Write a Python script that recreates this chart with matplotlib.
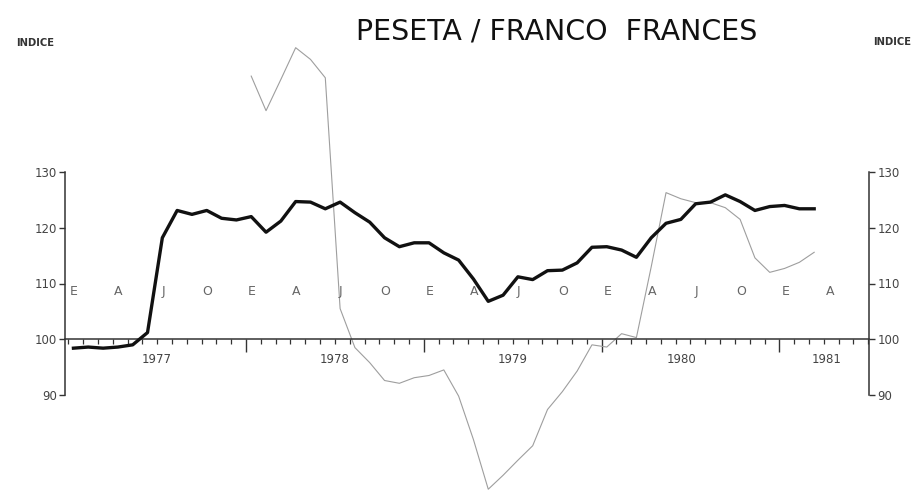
import matplotlib.pyplot as plt
import numpy as np

# meses desde enero 1977 (mes 0)
peseta_franco = [98.4, 98.6, 98.4, 98.6, 99.0, 101.2, 118.2, 123.1, 122.4, 123.1, 121.7, 121.4,
                 122.0, 119.2, 121.2, 124.7, 124.6, 123.4, 124.6, 122.7, 121.0, 118.2, 116.6, 117.3,
                 117.3, 115.5, 114.2, 110.8, 106.8, 107.9, 111.2, 110.7, 112.3, 112.4, 113.7, 116.5,
                 116.6, 116.0, 114.7, 118.2, 120.8, 121.5, 124.3, 124.6, 125.9, 124.7, 123.1, 123.8,
                 124.0, 123.4, 123.4]

# serie fina, empieza en enero 1978 (mes 12)
thin_start = 12
thin_series = [147.2, 141.0, 146.6, 152.3, 150.2, 146.9, 105.5, 98.5, 95.8, 92.6, 92.1, 93.1,
               93.5, 94.5, 89.8, 82.0, 73.1, 75.6, 78.3, 80.9, 87.4, 90.6, 94.3, 99.0,
               98.6, 101.0, 100.3, 113.0, 126.3, 125.2, 124.5, 124.5, 123.6, 121.5, 114.6, 112.0,
               112.7, 113.8, 115.6]

month_letters = ['E', 'A', 'J', 'O'] * 4 + ['E', 'A']
year_labels = ['1977', '1978', '1979', '1980', '1981']
year_pos = [6, 18, 30, 41.4, 51.2]
yticks = [90, 100, 110, 120, 130]

fig = plt.figure(figsize=(9.16, 4.93), dpi=100)
ax = fig.add_axes([65 / 916, 98 / 493, 804 / 916, 223 / 493])

x_thick = np.arange(len(peseta_franco)) + 0.35
x_thin = np.arange(thin_start, thin_start + len(thin_series)) + 0.35
ax.plot(x_thin, thin_series, color='#9e9e9e', lw=0.8, clip_on=False, zorder=2)
ax.plot(x_thick, peseta_franco, color='#111111', lw=2.4, clip_on=False, zorder=3,
        solid_joinstyle='round')

ax.set_xlim(-0.22, 54.05)
ax.set_ylim(90, 130)

# ejes
axis_col = '#333333'
for side in ['left', 'right']:
    ax.spines[side].set_bounds(90, 130)
    ax.spines[side].set_color(axis_col)
    ax.spines[side].set_linewidth(1.1)
ax.spines['top'].set_visible(False)
ax.spines['bottom'].set_position(('data', 100))
ax.spines['bottom'].set_color(axis_col)
ax.spines['bottom'].set_linewidth(1.1)

ax.set_yticks(yticks)
ax.tick_params(axis='y', left=True, right=True, labelleft=True, labelright=True,
               length=4, width=1, color=axis_col, labelsize=8.5, labelcolor='#444444', pad=2)

ax.set_xticks([12, 24, 36, 48])
ax.set_xticks(np.arange(0, 55), minor=True)
ax.tick_params(axis='x', which='major', length=9, width=1, color=axis_col, labelbottom=False)
ax.tick_params(axis='x', which='minor', length=3.5, width=0.9, color=axis_col)

# letras de los meses (trimestres)
for k, letter in enumerate(month_letters):
    ax.text(k * 3 + 0.4, 108.6, letter, ha='center', va='center', fontsize=9,
            color='#666666')

for lab, pos in zip(year_labels, year_pos):
    ax.text(pos, 96.3, lab, ha='center', va='center', fontsize=8.5, color='#444444')

fig.text(557 / 916, 1 - 32 / 493, 'PESETA / FRANCO  FRANCES', ha='center', va='center',
         fontsize=20.5, color='#111111')
fig.text(35 / 916, 1 - 43 / 493, 'INDICE', ha='center', va='center', fontsize=7.2,
         color='#333333', fontweight='bold')
fig.text(892 / 916, 1 - 42 / 493, 'INDICE', ha='center', va='center', fontsize=7.2,
         color='#333333', fontweight='bold')

plt.savefig('out.png', dpi=100)
plt.close(fig)
